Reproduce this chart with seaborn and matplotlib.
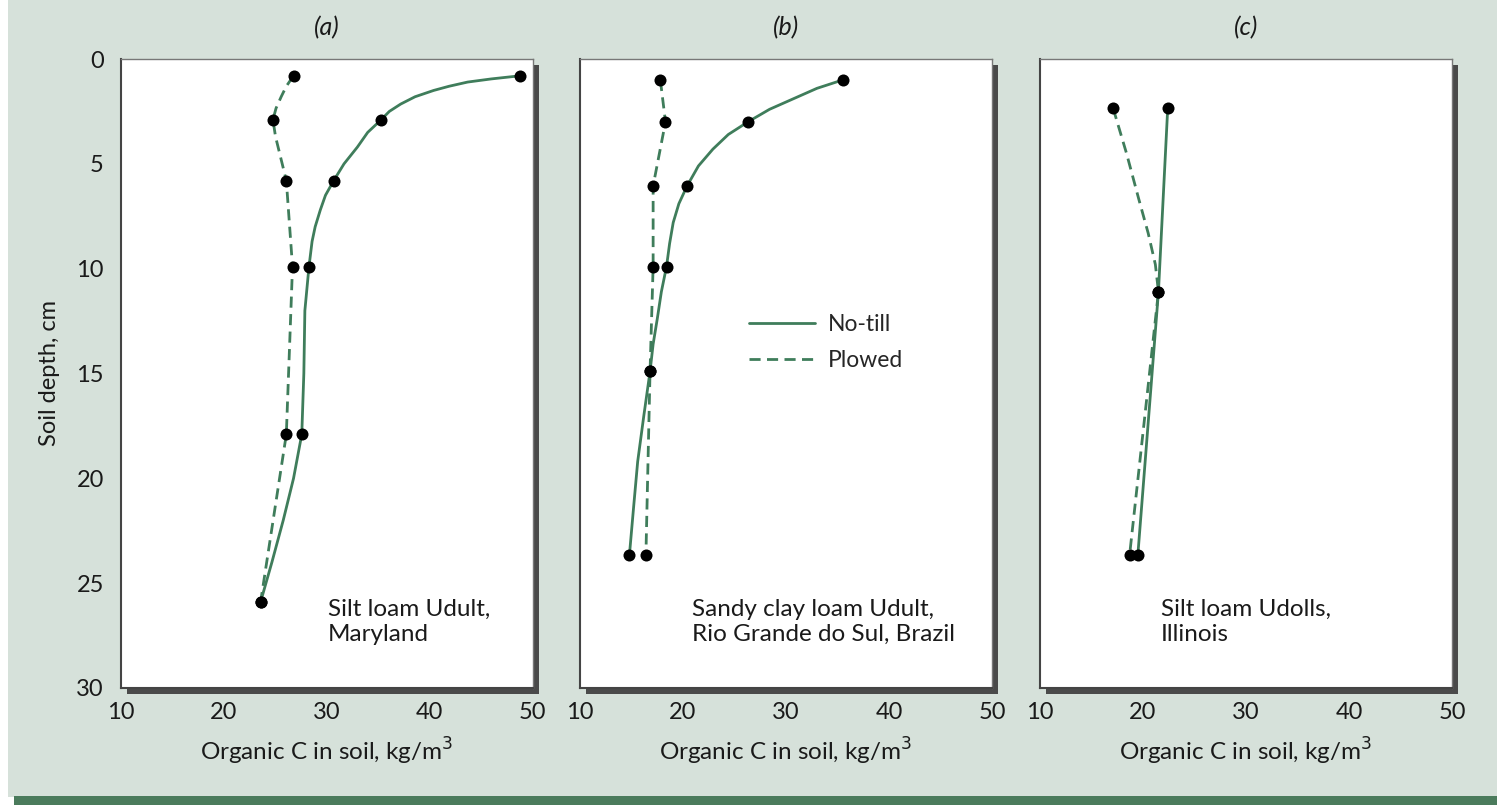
import matplotlib
matplotlib.use("Agg")
import matplotlib.pyplot as plt
from matplotlib.patches import Rectangle
from matplotlib.lines import Line2D
import seaborn as sns

# ---------------- data ----------------
panel_titles = ["(a)", "(b)", "(c)"]
panel_notes = ["Silt loam Udult,\nMaryland",
               "Sandy clay loam Udult,\nRio Grande do Sul, Brazil",
               "Silt loam Udolls,\nIllinois"]

# measured points (organic C, kg/m3 ; depth, cm)
a_notill_c = [48.8, 35.3, 30.7, 28.3, 27.6, 23.6]
a_notill_d = [0.8, 2.9, 5.8, 9.9, 17.9, 25.9]
a_plow_c = [26.8, 24.8, 26.1, 26.7, 26.1, 23.6]
a_plow_d = [0.8, 2.9, 5.8, 9.9, 17.9, 25.9]

b_notill_c = [35.5, 26.3, 20.4, 18.4, 16.8, 14.8]
b_notill_d = [1.0, 3.0, 6.05, 9.9, 14.9, 23.65]
b_plow_c = [17.8, 18.3, 17.1, 17.1, 16.8, 16.4]
b_plow_d = [1.0, 3.0, 6.05, 9.9, 14.9, 23.65]

c_notill_c = [22.4, 21.5, 19.5]
c_notill_d = [2.35, 11.1, 23.65]
c_plow_c = [17.1, 21.5, 18.7]
c_plow_d = [2.35, 11.1, 23.65]

# smooth curve paths
a_notill_curve_c = [48.8, 46.0, 43.7, 41.9, 40.4, 38.6, 37.2, 36.1, 35.3, 34.0, 33.0, 31.7,
                    30.7, 29.9, 29.4, 28.9, 28.6, 28.3, 27.9, 27.8, 27.6, 26.8, 25.8, 24.7, 23.6]
a_notill_curve_d = [0.8, 0.95, 1.1, 1.3, 1.5, 1.8, 2.15, 2.5, 2.9, 3.5, 4.2, 5.0,
                    5.8, 6.5, 7.2, 8.0, 8.7, 9.9, 12.0, 15.0, 17.9, 20.0, 22.0, 24.0, 25.9]
a_plow_curve_c = [26.8, 26.1, 25.6, 25.1, 24.8, 25.05, 26.1, 26.7, 26.1, 23.6]
a_plow_curve_d = [0.8, 1.3, 1.8, 2.35, 2.9, 3.7, 5.8, 9.9, 17.9, 25.9]

b_notill_curve_c = [35.5, 33.0, 30.7, 28.4, 26.3, 24.4, 22.9, 21.5, 20.4, 19.6, 19.05,
                    18.7, 18.4, 17.9, 17.5, 17.1, 16.8, 16.2, 15.6, 15.2, 14.8]
b_notill_curve_d = [1.0, 1.4, 1.9, 2.4, 3.0, 3.6, 4.3, 5.1, 6.05, 6.9, 7.8,
                    8.8, 9.9, 11.1, 12.4, 13.6, 14.9, 17.0, 19.2, 21.4, 23.65]
b_plow_curve_c = [17.8, 18.3, 17.1, 17.1, 16.8, 16.4]
b_plow_curve_d = [1.0, 3.0, 6.05, 9.9, 14.9, 23.65]

c_notill_curve_c = [22.4, 21.5, 19.5]
c_notill_curve_d = [2.35, 11.1, 23.65]
c_plow_curve_c = [17.1, 18.4, 19.6, 20.5, 21.2, 21.5, 18.7]
c_plow_curve_d = [2.35, 4.5, 6.7, 8.3, 9.8, 11.1, 23.65]

x_ticks = [10, 20, 30, 40, 50]
y_ticks = [0, 5, 10, 15, 20, 25, 30]
legend_labels = ["No-till", "Plowed"]

# ---------------- style ----------------
sns.set_theme(style="white")
plt.rcParams["font.family"] = ["Lato", "DejaVu Sans"]

GREEN = "#3f7d5b"
BG = "#d6e1da"
DASH = (0, (4.0, 2.3))
TXT = "#1a1a1a"
W, H = 1497, 805

fig = plt.figure(figsize=(W / 100, H / 100), dpi=100, facecolor="white")

# page background & bottom band
fig.add_artist(Rectangle((8 / W, 8 / H), 1, 1, transform=fig.transFigure,
                         facecolor=BG, edgecolor="none", zorder=-10))
fig.add_artist(Rectangle((14 / W, 0), 1, 9 / H, transform=fig.transFigure,
                         facecolor="#4b7b5c", edgecolor="none", zorder=-9))

lefts = [120.5, 580, 1040]
ax_w = 412
ax_top, ax_bot = 59, 688

panels = [
    (a_notill_c, a_notill_d, a_plow_c, a_plow_d,
     a_notill_curve_c, a_notill_curve_d, a_plow_curve_c, a_plow_curve_d),
    (b_notill_c, b_notill_d, b_plow_c, b_plow_d,
     b_notill_curve_c, b_notill_curve_d, b_plow_curve_c, b_plow_curve_d),
    (c_notill_c, c_notill_d, c_plow_c, c_plow_d,
     c_notill_curve_c, c_notill_curve_d, c_plow_curve_c, c_plow_curve_d),
]
note_x = [30.1, 20.9, 21.7]

for i, (left, data) in enumerate(zip(lefts, panels)):
    rect = [left / W, (H - ax_bot) / H, ax_w / W, (ax_bot - ax_top) / H]
    # drop shadow
    sh = 6
    fig.add_artist(Rectangle(((left + sh) / W, (H - ax_bot - sh) / H), ax_w / W,
                             (ax_bot - ax_top) / H, transform=fig.transFigure,
                             facecolor="#4a4a4a", edgecolor="none", zorder=-5))
    ax = fig.add_axes(rect)
    ax.set_facecolor("white")
    nc, nd, pc, pd_, ncc, ncd, pcc, pcd = data

    sns.lineplot(x=ncc, y=ncd, sort=False, estimator=None, color=GREEN,
                 linewidth=2.0, ax=ax)
    sns.lineplot(x=pcc, y=pcd, sort=False, estimator=None, color=GREEN,
                 linewidth=2.0, linestyle=DASH, ax=ax)
    sns.scatterplot(x=nc + pc, y=nd + pd_, color="black", s=75,
                    edgecolor="black", linewidth=0, zorder=5, ax=ax)

    ax.set_xlim(10, 50)
    ax.set_ylim(30, 0)
    ax.set_xticks(x_ticks)
    ax.set_yticks(y_ticks)
    ax.tick_params(axis="both", direction="in", length=9, width=1.2,
                   color="#333333", labelsize=17, labelcolor=TXT)
    ax.tick_params(axis="x", pad=10)
    ax.tick_params(axis="y", pad=12)
    if i > 0:
        ax.set_yticklabels([])
    else:
        ax.set_ylabel("Soil depth, cm", fontsize=17, color=TXT, labelpad=12)
    ax.set_xlabel("Organic C in soil, kg/m$^3$", fontsize=17.5, color=TXT,
                  labelpad=9)
    ax.set_title(panel_titles[i], fontsize=18, style="italic", color=TXT,
                 pad=17)
    for side in ["top", "right"]:
        ax.spines[side].set_color("#777777")
        ax.spines[side].set_linewidth(1.0)
    for side in ["left", "bottom"]:
        ax.spines[side].set_color("#444444")
        ax.spines[side].set_linewidth(1.5)
    ax.grid(False)
    ax.text(note_x[i], 25.75, panel_notes[i], fontsize=17.5, color=TXT,
            va="top", ha="left", linespacing=1.25)
    if ax.get_legend() is not None:
        ax.get_legend().remove()

    if i == 1:
        handles = [Line2D([], [], color=GREEN, lw=2.0),
                   Line2D([], [], color=GREEN, lw=2.0, linestyle=DASH)]
        ax.legend(handles, legend_labels, loc="upper left",
                  bbox_to_anchor=(0.41, 0.595), frameon=False, fontsize=16.5,
                  handlelength=2.9, handletextpad=0.55, labelspacing=0.65,
                  borderpad=0, borderaxespad=0)

fig.savefig("out.png", dpi=100, facecolor=fig.get_facecolor())
